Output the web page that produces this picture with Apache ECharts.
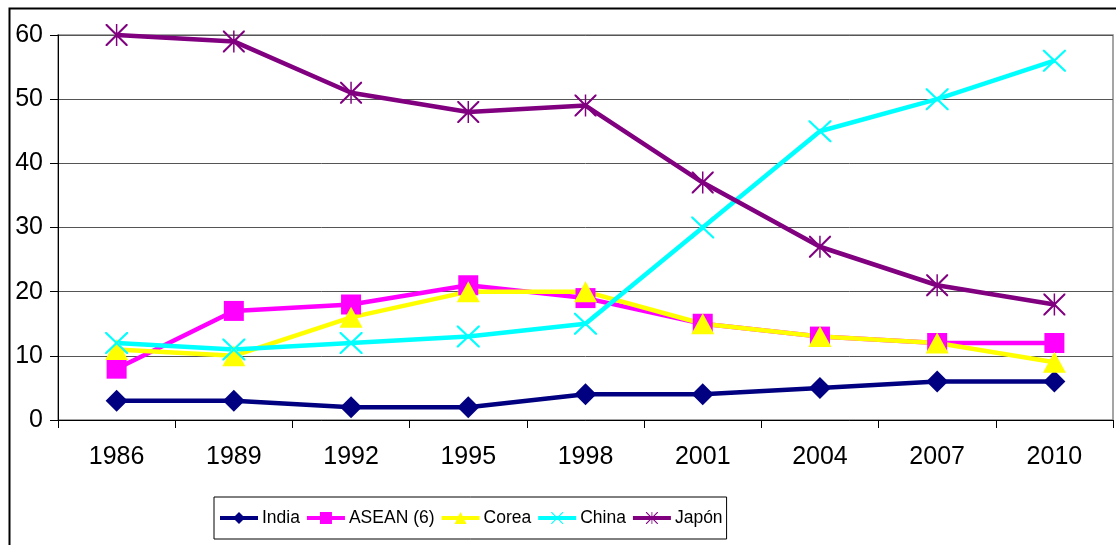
<!DOCTYPE html>
<html><head><meta charset="utf-8">
<script src="https://cdn.jsdelivr.net/npm/echarts@6/dist/echarts.min.js"></script>
<style>html,body{margin:0;padding:0;background:#fff}#c{width:1116px;height:545px}</style>
</head><body><div id="c"></div>
<script>
const years = ['1986','1989','1992','1995','1998','2001','2004','2007','2010'];
const india = [3,3,2,2,4,4,5,6,6];
const asean = [8,17,18,21,19,15,13,12,12];
const corea = [11,10,16,20,20,15,13,12,9];
const china = [12,11,12,13,15,30,45,50,56];
const japon = [60,59,51,48,49,37,27,21,18];
const yTicks = [0,10,20,30,40,50,60];

const X_PATH = 'path://M0 0 L1.6 0 L12 10.4 L22.4 0 L24 0 L24 1.6 L13.6 12 L24 22.4 L24 24 L22.4 24 L12 13.6 L1.6 24 L0 24 L0 22.4 L10.4 12 L0 1.6 Z';
const STAR_PATH = 'path://M0 0 L1.6 0 L12 10.4 L22.4 0 L24 0 L24 1.6 L13.6 12 L24 22.4 L24 24 L22.4 24 L12 13.6 L1.6 24 L0 24 L0 22.4 L10.4 12 L0 1.6 Z M11.2 0 L12.8 0 L12.8 24 L11.2 24 Z';

const FONT = "Liberation Sans";
function mk(name, data, color, symbol, size) {
  return {
    name, type: 'line', data, symbol, symbolSize: size,
    lineStyle: { color, width: 4.5 }, itemStyle: { color },
    emphasis: { disabled: true }, animation: false, z: 3
  };
}
const chart = echarts.init(document.getElementById('c'), null, { renderer: 'canvas' });
chart.setOption({
  animation: false,
  backgroundColor: '#fff',
  graphic: [{ type: 'rect', left: 7, top: 6, shape: { x: 0, y: 0, width: 1200, height: 600 },
    style: { fill: 'none', stroke: '#000', lineWidth: 2 }, z: 0, silent: true }],
  grid: { left: 58, top: 35, right: 3, bottom: 125, show: true, borderColor: '#888', borderWidth: 1.5, backgroundColor: 'transparent' },
  legend: {
    data: ['India','ASEAN (6)','Corea','China','Japón'],
    left: 214, top: 497, padding: [12, 4, 12, 4], itemGap: 5, itemWidth: 38, itemHeight: 15,
    borderColor: '#000', borderWidth: 1,
    lineStyle: { width: 4 },
    textStyle: { fontFamily: FONT, fontSize: 17.5, color: '#000', padding: [0,0,0,-1] }
  },
  xAxis: {
    type: 'category', data: years, boundaryGap: true,
    axisLine: { lineStyle: { color: '#000', width: 1 } },
    axisTick: { show: true, length: 8, lineStyle: { color: '#000' } },
    axisLabel: { fontFamily: FONT, fontSize: 25, color: '#000', margin: 25 },
    splitLine: { show: false }
  },
  yAxis: {
    type: 'value', min: 0, max: 60, interval: 10,
    axisLine: { show: true, lineStyle: { color: '#000', width: 1 } },
    axisTick: { show: true, length: 8, lineStyle: { color: '#000' } },
    axisLabel: { fontFamily: FONT, fontSize: 25, color: '#000', margin: 15,
      formatter: v => yTicks.includes(v) ? String(v) : '' },
    splitLine: { show: true, lineStyle: { color: '#555', width: 1 } }
  },
  series: [
    mk('India', india, '#000080', 'diamond', [22, 22]),
    mk('ASEAN (6)', asean, '#FF00FF', 'rect', [20, 20]),
    mk('Corea', corea, '#FFFF00', 'triangle', [23, 21]),
    mk('China', china, '#00FFFF', X_PATH, [23, 22]),
    mk('Japón', japon, '#800080', STAR_PATH, [22, 22])
  ]
});
</script></body></html>
